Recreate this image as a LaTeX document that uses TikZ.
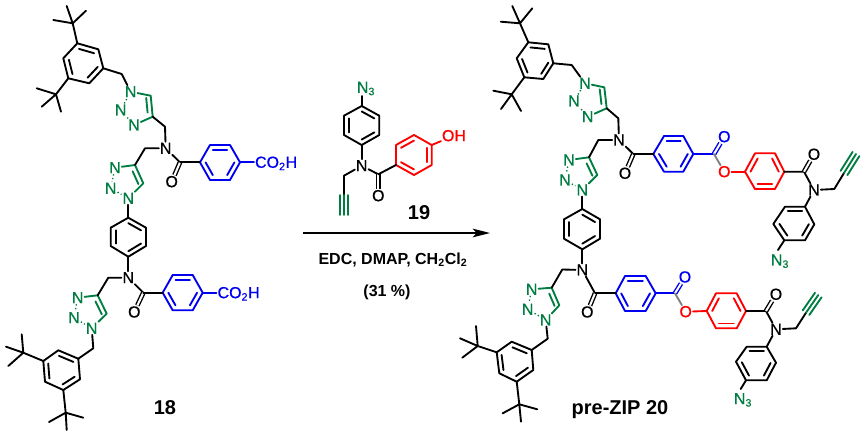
\documentclass[tikz,border=0pt]{standalone}
\usepackage{fontspec}
\setmainfont{Liberation Sans}
\usetikzlibrary{calc,arrows.meta}
\definecolor{tzgreen}{RGB}{0,125,65}
\definecolor{arblue}{RGB}{0,0,240}
\definecolor{arred}{RGB}{255,0,0}
\tikzset{
  bond/.style={line width=1.4pt,line cap=round,line join=round},
  dblbond/.style={line width=1.05pt,double,double distance=1.5pt},
  dotbond/.style={line width=1pt,dash pattern=on 1pt off 1.8pt,draw=tzgreen},
  atom/.style={font=\fontsize{12}{12}\selectfont\addfontfeature{FakeBold=.6},inner sep=.6pt,text height=8.2pt,text depth=0pt},
  title/.style={font=\fontsize{15}{15}\selectfont\bfseries,inner sep=0pt},
  reagent/.style={font=\fontsize{12}{14}\selectfont\bfseries,inner sep=0pt}
}
% ring with three inner lines: colour, name, six corners
\newcommand{\benzene}[8]{
  \coordinate (#2v1) at (#3);
  \coordinate (#2v2) at (#4);
  \coordinate (#2v3) at (#5);
  \coordinate (#2v4) at (#6);
  \coordinate (#2v5) at (#7);
  \coordinate (#2v6) at (#8);
  \coordinate (#2c) at ($(#2v1)!.5!(#2v4)$);
  \draw[bond,#1] (#2v1)--(#2v2)--(#2v3)--(#2v4)--(#2v5)--(#2v6)--cycle;
  \foreach \s/\t in {1/2,3/4,5/6}
    \draw[bond,#1] ($(#2c)!.72!(#2v\s)$)--($(#2c)!.72!(#2v\t)$);
}
% tert-butyl: name, ring corner, centre, three methyl ends
\newcommand{\tBu}[6]{
  \coordinate (#1) at (#3);
  \coordinate (#1a) at (#4);
  \coordinate (#1b) at (#5);
  \coordinate (#1d) at (#6);
  \draw[bond] (#2)--(#1) (#1a)--(#1) (#1b)--(#1) (#1d)--(#1);
}
% triazole: name, N1, C5, C4, N3, N2
\newcommand{\triazole}[6]{
  \node[atom,text=tzgreen] (#1a) at (#2) {N};
  \coordinate (#1b) at (#3);
  \coordinate (#1d) at (#4);
  \node[atom,text=tzgreen] (#1e) at (#5) {N};
  \node[atom,text=tzgreen] (#1f) at (#6) {N};
  \coordinate (#1c) at ($(#1b)!.5!(#1f)$);
  \draw[bond,tzgreen] (#1a)--(#1b)--(#1d)--(#1e);
  \draw[bond,tzgreen] ($(#1c)!.7!(#1b)$)--($(#1c)!.7!(#1d)$);
  \draw[dotbond] (#1e)--(#1f) (#1f)--(#1a);
}
% alkyne: from, to
\newcommand{\triplebond}[2]{
  \draw[bond,tzgreen] (#1)--(#2)
    ($(#1)!3pt!90:(#2)$)--($(#2)!3pt!-90:(#1)$)
    ($(#1)!3pt!-90:(#2)$)--($(#2)!3pt!90:(#1)$);
}
\begin{document}
\begin{tikzpicture}[x=0.75pt,y=-0.75pt]
\useasboundingbox (0,0) rectangle (865,436);

% 18
\benzene{black}{aTop}{77.3,43.3}{98.3,49.3}{103.3,68.3}{89.3,83.3}{68.3,78.3}{63.3,58.3}
\tBu{aBuA}{aTopv1}{72.7,23.3}{66.7,6}{86,10.7}{53.3,20}
\tBu{aBuB}{aTopv5}{56,94.3}{36.7,88.3}{41.7,106.7}{61,111.7}
\triazole{aTzA}{130.7,91.7}{150.7,95.7}{152.7,116.7}{134,125}{120.7,110}
\triazole{aTzB}{128.3,198.3}{143.3,183.3}{135,165}{115,167.7}{110.7,188.3}
\coordinate (aCHa) at (121.7,74);
\coordinate (aCHb) at (165,126.7);
\coordinate (aCHc) at (145,148.3);
\node[atom] (aNa) at (165.7,148.3) {N};
\draw[bond] (aTopv3)--(aCHa)--(aTzAa);
\draw[bond] (aTzAd)--(aCHb)--(aNa)--(aCHc)--(aTzBd);
\coordinate (aCOa) at (180,162.3);
\node[atom] (aOa) at (171.7,181.7) {O};
\draw[bond] (aNa)--(aCOa);
\draw[dblbond] (aCOa)--(aOa);
\benzene{arblue}{aBlueA}{210,145}{230,145}{240,162.3}{230,180}{210,180}{200,162.3}
\draw[bond] (aCOa)--(aBlueAv6);
\node[atom,text=arblue,anchor=west] (aAcidA) at (254,162.3) {CO\textsubscript{2}H};
\draw[bond,arblue] (aBlueAv3)--(aAcidA);
\benzene{black}{aMid}{128.3,217.7}{146,227.7}{146,246}{128.3,256.7}{110.7,246}{110.7,227.7}
\draw[bond] (aTzBa)--(aMidv1);
\node[atom] (aNb) at (128.3,277.7) {N};
\draw[bond] (aMidv4)--(aNb);
\triazole{aTzC}{91.7,328.3}{106.7,313.7}{97.7,295.3}{77.7,297.7}{74,317.7}
\coordinate (aCHd) at (108.3,277.7);
\coordinate (aCHe) at (93.3,348.3);
\draw[bond] (aNb)--(aCHd)--(aTzCd);
\coordinate (aCOb) at (143.3,292.7);
\node[atom] (aOb) at (134.3,312) {O};
\draw[bond] (aNb)--(aCOb);
\draw[dblbond] (aCOb)--(aOb);
\benzene{arblue}{aBlueB}{172.7,275}{192.7,275}{202.7,292.7}{192.7,310.3}{172.7,310.3}{162.7,292.7}
\draw[bond] (aCOb)--(aBlueBv6);
\node[atom,text=arblue,anchor=west] (aAcidB) at (216.5,292.7) {CO\textsubscript{2}H};
\draw[bond,arblue] (aBlueBv3)--(aAcidB);
\benzene{black}{aLow}{58.3,350.3}{78.3,358.7}{80,379.3}{63.3,390}{45,381.7}{43.3,361}
\draw[bond] (aTzCa)--(aCHe)--(aLowv2);
\tBu{aBuC}{aLowv6}{23.3,352.7}{21.7,334.3}{6,346.7}{8.3,366}
\tBu{aBuD}{aLowv4}{65.7,412.7}{49,422}{66.7,430}{83.3,417.7}
\node[title] (aName) at (165,408) {18};

% 19
\node[atom,text=tzgreen] (rAz) at (366,87.3) {N\textsubscript{3}};
\benzene{black}{rAr}{361.7,106}{379.3,115.7}{379.3,135}{361.7,145}{344,135}{344,115.7}
\coordinate (rAzEnd) at (361.7,96);
\draw[bond] (rAzEnd)--(rArv1);
\node[atom] (rN) at (361.7,165.7) {N};
\draw[bond] (rArv4)--(rN);
\coordinate (rCH) at (344,175.7);
\coordinate (rYa) at (344,195);
\coordinate (rYb) at (344,215);
\draw[bond] (rN)--(rCH)--(rYa);
\triplebond{rYa}{rYb}
\coordinate (rCO) at (378.3,174.3);
\node[atom] (rO) at (378.3,195.7) {O};
\draw[bond] (rN)--(rCO);
\draw[dblbond] (rCO)--(rO);
\benzene{arred}{rOx}{396,145}{414,135}{431.7,145}{431.7,165}{414,175}{396,165}
\draw[bond] (rCO)--(rOxv6);
\node[atom,text=arred] (rOH) at (454,135.7) {OH};
\draw[bond,arred] (rOxv3)--(rOH);
\node[title] (rName) at (419,212.7) {19};

% reaction arrow
\coordinate (arrowA) at (303,233);
\coordinate (arrowB) at (490,233);
\draw[line width=1.1pt,-{Stealth[length=13pt,width=6.5pt,inset=3pt]}] (arrowA)--(arrowB);
\node[reagent] (rCond) at (393,259.5) {EDC, DMAP, CH\textsubscript{2}Cl\textsubscript{2}};
\node[reagent] (rYield) at (387,292) {(31 \%)};

% pre-ZIP 20
\benzene{black}{pTop}{528.3,42.3}{548.3,44.3}{553.3,63.3}{543.3,79}{524.3,77.3}{516.7,58.3}
\tBu{pBuA}{pTopv1}{520,23.3}{512.3,6}{532.3,8.3}{500.7,21.7}
\tBu{pBuB}{pTopv5}{511.7,94.3}{493.3,90.7}{501,109}{521,111}
\triazole{pTzA}{585,83.3}{604.3,87.3}{606.7,108.3}{587.7,116.7}{574,101}
\triazole{pTzB}{582.3,190}{597.3,175}{589,157.3}{569,160}{565,180}
\coordinate (pCHa) at (571.7,65);
\coordinate (pCHb) at (618.3,118.3);
\coordinate (pCHc) at (598.3,140);
\node[atom] (pNa) at (619,140) {N};
\draw[bond] (pTopv3)--(pCHa)--(pTzAa);
\draw[bond] (pTzAd)--(pCHb)--(pNa)--(pCHc)--(pTzBd);
\coordinate (pCOa) at (633.3,154);
\node[atom] (pOa) at (625,173.3) {O};
\draw[bond] (pNa)--(pCOa);
\draw[dblbond] (pCOa)--(pOa);
\benzene{arblue}{pBlueA}{664,136}{683.3,136}{693.3,154}{683.3,171.7}{664,171.7}{653.3,154}
\draw[bond] (pCOa)--(pBlueAv6);
\coordinate (pEsA) at (714,154);
\node[atom,text=arblue] (pEsOa) at (724.3,136.7) {O};
\node[atom,text=arred] (pEsOb) at (724.3,171.7) {O};
\draw[bond,arblue] (pBlueAv3)--(pEsA);
\draw[dblbond,draw=arblue] (pEsA)--(pEsOa);
\draw[bond,gray] (pEsA)--(pEsOb);
\benzene{arred}{pRedA}{745,171.7}{755,153.3}{775,153.3}{784.3,171.7}{775,189}{755,189}
\draw[bond,arred] (pEsOb)--(pRedAv1);
\coordinate (pAmA) at (804,171.7);
\node[atom] (pAmOa) at (814,154.3) {O};
\node[atom] (pAmNa) at (814,190) {N};
\draw[bond] (pRedAv4)--(pAmA)--(pAmNa);
\draw[dblbond] (pAmA)--(pAmOa);
\coordinate (pPrA) at (834.3,189);
\coordinate (pYa) at (844,173);
\coordinate (pYb) at (856,154);
\draw[bond] (pAmNa)--(pPrA)--(pYa);
\triplebond{pYa}{pYb}
\benzene{black}{pAzA}{785,206.7}{805,206.7}{814.3,224.3}{805,240.3}{784.3,240.3}{773.3,224}
\draw[bond] (pAmNa)--(pAzAv2);
\node[atom,text=tzgreen] (pAzLa) at (780,260) {N\textsubscript{3}};
\coordinate (pAzEa) at (778,250);
\draw[bond] (pAzAv5)--(pAzEa);

\benzene{black}{pMid}{582.3,209}{600,219.3}{600,238.7}{582.3,249.3}{564,238.7}{564,219.3}
\draw[bond] (pTzBa)--(pMidv1);
\node[atom] (pNb) at (582.3,270) {N};
\draw[bond] (pMidv4)--(pNb);
\triazole{pTzC}{545.7,320}{559.3,305.3}{551.7,287.7}{531.7,289.3}{527.7,309.3}
\coordinate (pCHd) at (562.3,269.5);
\coordinate (pCHe) at (547.7,338.7);
\draw[bond] (pNb)--(pCHd)--(pTzCd);
\coordinate (pCOb) at (595,293.3);
\node[atom] (pOb) at (587.3,312) {O};
\draw[bond] (pNb)--(pCOb);
\draw[dblbond] (pCOb)--(pOb);
\benzene{arblue}{pBlueB}{625,276}{645.7,276}{655.7,293.3}{645.7,311}{625,311}{615.7,293.3}
\draw[bond] (pCOb)--(pBlueBv6);
\coordinate (pEsB) at (675,293.3);
\node[atom,text=arblue] (pEsOc) at (685,277) {O};
\node[atom,text=arred] (pEsOd) at (685.7,311.7) {O};
\draw[bond,arblue] (pBlueBv3)--(pEsB);
\draw[dblbond,draw=arblue] (pEsB)--(pEsOc);
\draw[bond,gray] (pEsB)--(pEsOd);
\benzene{arred}{pRedB}{706.7,311}{716,293.3}{736.7,293.3}{746,311}{736.7,328.3}{716,328.3}
\draw[bond,arred] (pEsOd)--(pRedBv1);
\coordinate (pAmB) at (766,311);
\node[atom] (pAmOb) at (776,294.3) {O};
\node[atom] (pAmNb) at (776,329.3) {N};
\draw[bond] (pRedBv4)--(pAmB)--(pAmNb);
\draw[dblbond] (pAmB)--(pAmOb);
\coordinate (pPrB) at (796,328.3);
\coordinate (pYc) at (806,312.7);
\coordinate (pYd) at (818.3,295);
\draw[bond] (pAmNb)--(pPrB)--(pYc);
\triplebond{pYc}{pYd}
\benzene{black}{pAzB}{746.7,346.7}{766.7,346.7}{776,362.7}{766.7,380.3}{746,380.3}{736,361.7}
\draw[bond] (pAmNb)--(pAzBv2);
\node[atom,text=tzgreen] (pAzLb) at (743,398.7) {N\textsubscript{3}};
\coordinate (pAzEb) at (740.7,389);
\draw[bond] (pAzBv5)--(pAzEb);
\benzene{black}{pLow}{511.7,341.7}{531.7,350}{533.3,370}{516.7,381.7}{499.3,373.3}{496.7,352.3}
\draw[bond] (pTzCa)--(pCHe)--(pLowv2);
\tBu{pBuC}{pLowv6}{477.7,346}{476,326}{460,338.3}{462.3,357.7}
\tBu{pBuD}{pLowv4}{519.3,404.3}{502.7,413.3}{521,421.7}{537.3,409.3}
\node[title] (pName) at (620,410) {pre-ZIP 20};
\end{tikzpicture}
\end{document}
